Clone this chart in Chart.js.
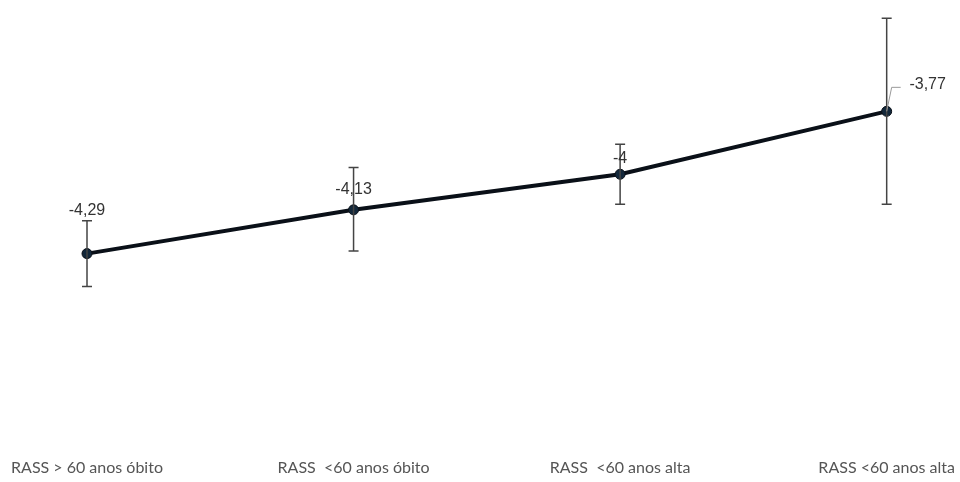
<!DOCTYPE html>
<html>
<head>
<meta charset="utf-8">
<script src="https://cdn.jsdelivr.net/npm/chart.js@4.4.1/dist/chart.umd.min.js"></script>
<style>
  html, body { margin: 0; padding: 0; background: #fff; }
  #wrap { width: 960px; height: 482px; position: relative; }
</style>
</head>
<body>
<div id="wrap"><canvas id="rassChart"></canvas></div>
<script>
// categorias e valores
const categories = ['RASS > 60 anos óbito', 'RASS  <60 anos óbito', 'RASS  <60 anos alta', 'RASS <60 anos alta'];
const meanValues = [-4.29, -4.13, -4, -3.77];
const errLow = [-4.41, -4.28, -4.11, -4.11];
const errHigh = [-4.17, -3.975, -3.89, -3.43];

// desenha as barras de erro usando as escalas do gráfico
const errorBars = {
  id: 'errorBars',
  afterDatasetsDraw(chart) {
    const { ctx, scales: { x, y } } = chart;
    ctx.save();
    ctx.strokeStyle = '#444';
    ctx.lineWidth = 1.5;
    meanValues.forEach((v, i) => {
      const px = x.getPixelForValue(i);
      const top = y.getPixelForValue(errHigh[i]);
      const bottom = y.getPixelForValue(errLow[i]);
      ctx.beginPath();
      ctx.moveTo(px, top);
      ctx.lineTo(px, bottom);
      ctx.moveTo(px - 5, top);
      ctx.lineTo(px + 5, top);
      ctx.moveTo(px - 5, bottom);
      ctx.lineTo(px + 5, bottom);
      ctx.stroke();
    });
    ctx.restore();
  }
};

// rótulos dos valores
const labelOffsets = [[0, -43], [0, -20], [0, -16], [41, -27]];
const valueLabels = {
  id: 'valueLabels',
  afterDraw(chart) {
    const { ctx } = chart;
    const meta = chart.getDatasetMeta(0);
    ctx.save();
    ctx.font = '16px "Liberation Sans", Arial, sans-serif';
    ctx.fillStyle = '#333';
    ctx.textAlign = 'center';
    ctx.textBaseline = 'middle';
    meta.data.forEach((pt, i) => {
      const [dx, dy] = labelOffsets[i];
      const text = String(meanValues[i]).replace('.', ',');
      if (dx !== 0) {
        // linha de chamada
        ctx.strokeStyle = '#999';
        ctx.lineWidth = 1;
        ctx.beginPath();
        ctx.moveTo(pt.x, pt.y);
        ctx.lineTo(pt.x + 5, pt.y + dy + 3);
        ctx.lineTo(pt.x + 14, pt.y + dy + 3);
        ctx.stroke();
      }
      ctx.fillText(text, pt.x + dx, pt.y + dy);
    });
    ctx.restore();
  }
};

const ctx = document.getElementById('rassChart').getContext('2d');
new Chart(ctx, {
  type: 'line',
  data: {
    labels: categories,
    datasets: [{
      data: meanValues,
      borderColor: '#0a1018',
      borderWidth: 4,
      pointRadius: 5,
      pointBackgroundColor: '#13283b',
      pointBorderColor: '#0a1018',
      pointBorderWidth: 1,
      tension: 0,
      fill: false
    }]
  },
  options: {
    responsive: true,
    maintainAspectRatio: false,
    animation: false,
    layout: { padding: { left: 87, right: 66, top: 0, bottom: 0 } },
    plugins: {
      legend: { display: false },
      tooltip: { enabled: false }
    },
    scales: {
      x: {
        offset: false,
        grid: { display: false, drawTicks: false },
        border: { display: false },
        ticks: {
          color: '#555',
          padding: 5,
          autoSkip: false,
          maxRotation: 0,
          font: { family: 'Lato, "Open Sans", sans-serif', size: 16 }
        }
      },
      y: {
        display: false,
        min: -5.018,
        max: -3.385
      }
    }
  },
  plugins: [errorBars, valueLabels]
});
</script>
</body>
</html>
